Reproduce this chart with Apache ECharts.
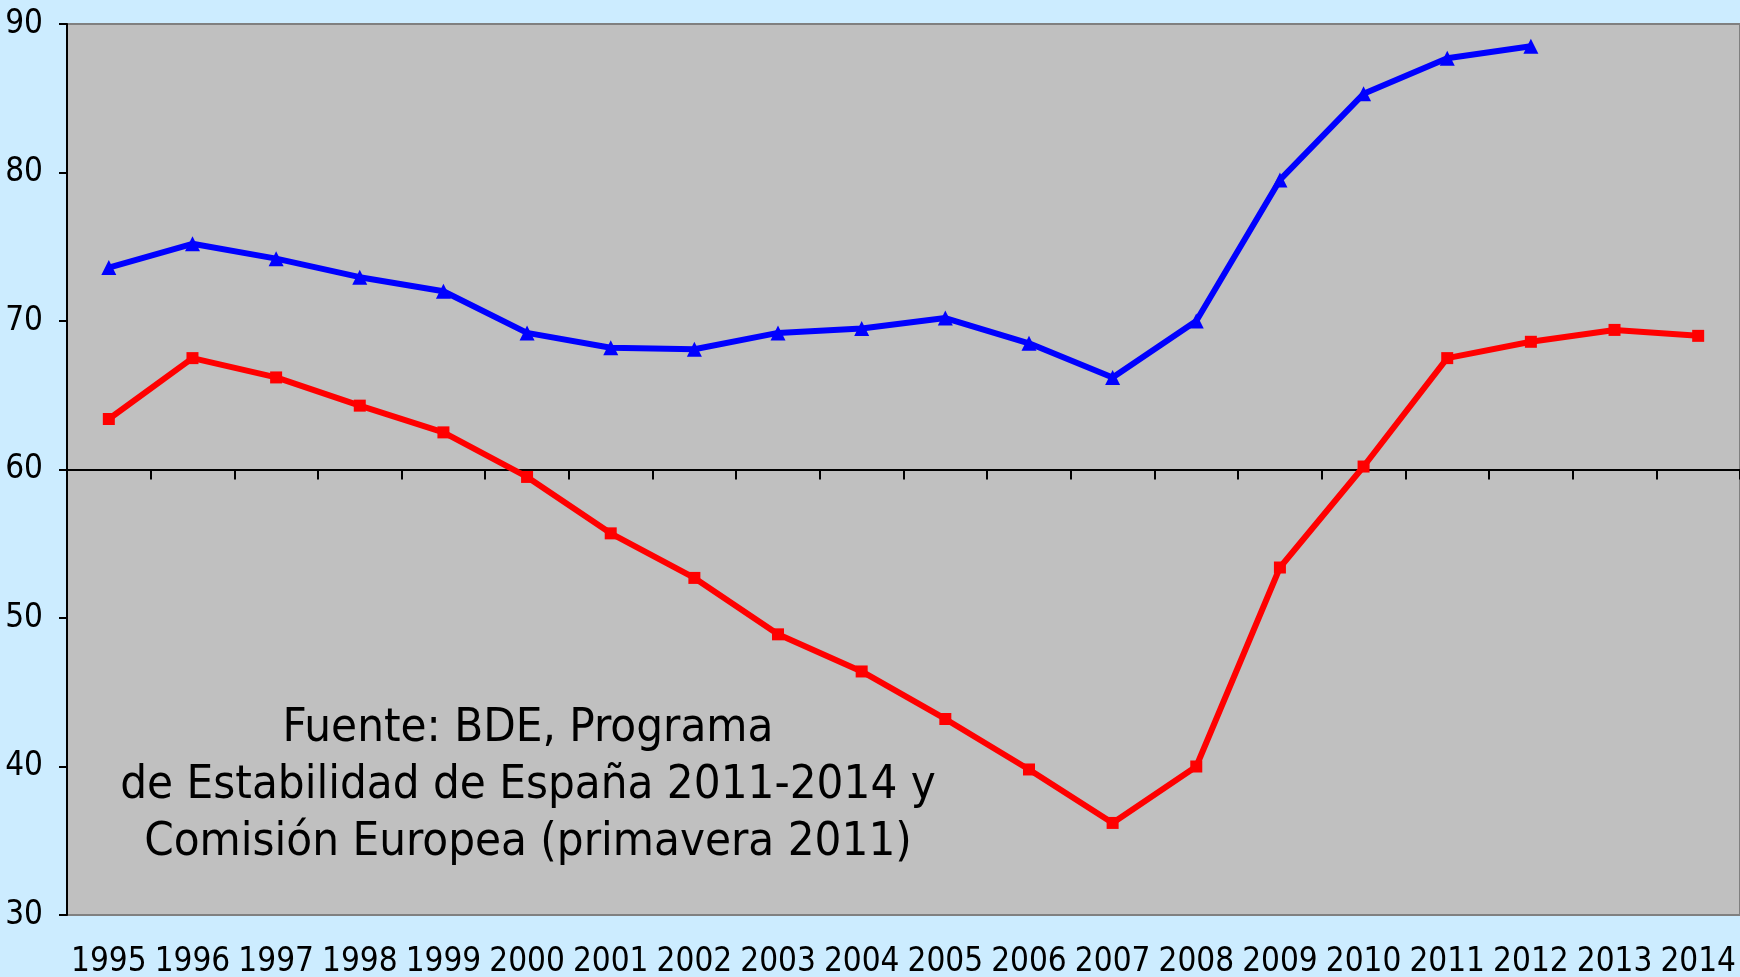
<!DOCTYPE html>
<html>
<head>
<meta charset="utf-8">
<script src="https://cdn.jsdelivr.net/npm/echarts@6/dist/echarts.min.js"></script>
<style>
  html, body { margin: 0; padding: 0; background: #CCECFF; }
  #main { width: 1740px; height: 977px; }
</style>
</head>
<body>
<div id="main"></div>
<script>
// years on the x axis
var years = ['1995', '1996', '1997', '1998', '1999', '2000', '2001', '2002', '2003', '2004',
  '2005', '2006', '2007', '2008', '2009', '2010', '2011', '2012', '2013', '2014']
// blue series (triangles), ends in 2012
var blueVals = [73.6, 75.2, 74.2, 72.95, 72.0, 69.2, 68.2, 68.1, 69.2, 69.5,
  70.2, 68.5, 66.2, 70.0, 79.5, 85.3, 87.7, 88.5, null, null]
// red series (squares)
var redVals = [63.4, 67.5, 66.2, 64.3, 62.5, 59.5, 55.7, 52.7, 48.9, 46.4,
  43.2, 39.8, 36.2, 40.0, 53.4, 60.2, 67.5, 68.6, 69.4, 69.0]
var yTicks = [30, 40, 50, 60, 70, 80, 90]
var crossAt = 60
var noteLines = ['Fuente: BDE, Programa', 'de Estabilidad de España 2011-2014 y', 'Comisión Europea (primavera 2011)']

var labelFont = 'DejaVu Sans Condensed'

// note text, one element per line, centred
var noteGraphics = noteLines.map(function (line, i) {
  return {
    type: 'text',
    x: 528,
    y: 705 + i * 57,
    style: {
      text: line,
      align: 'center',
      textAlign: 'center',
      verticalAlign: 'top',
      textVerticalAlign: 'top',
      fill: '#000',
      fontFamily: 'DejaVu Sans Condensed',
      fontSize: 47
    },
    z: 5
  }
})

var myChart = echarts.init(document.getElementById('main'))
myChart.setOption({
  backgroundColor: '#CCECFF',
  animation: false,
  grid: [
    {
      left: 67,
      right: 0,
      top: 24,
      bottom: 62,
      outerBoundsMode: 'none',
      containLabel: false,
      show: true,
      backgroundColor: '#C0C0C0',
      borderColor: '#808080',
      borderWidth: 2
    },
    {
      // helper grid: its bottom sits on y = 60, carries the crossing x axis
      left: 67,
      right: 0,
      top: 24,
      height: 891 * (90 - crossAt) / (90 - 30),
      outerBoundsMode: 'none',
      containLabel: false,
      show: false
    }
  ],
  xAxis: [
    {
      type: 'category',
      gridIndex: 0,
      data: years,
      boundaryGap: true,
      axisLine: { show: false },
      axisTick: { show: false },
      axisLabel: {
        color: '#000',
        fontFamily: labelFont,
        fontSize: 33,
        margin: 31,
        interval: 0
      },
      splitLine: { show: false }
    },
    {
      type: 'category',
      gridIndex: 1,
      data: years,
      boundaryGap: true,
      axisLine: { show: true, lineStyle: { color: '#000', width: 2 } },
      axisTick: { show: true, length: 10, interval: 0, lineStyle: { color: '#000', width: 2 } },
      axisLabel: { show: false },
      splitLine: { show: false }
    }
  ],
  yAxis: [
    {
      type: 'value',
      gridIndex: 0,
      min: yTicks[0],
      max: yTicks[yTicks.length - 1],
      interval: 10,
      axisLine: { show: true, lineStyle: { color: '#000', width: 2 } },
      axisTick: { show: true, length: 8, lineStyle: { color: '#000', width: 2 } },
      axisLabel: {
        color: '#000',
        fontFamily: labelFont,
        fontSize: 33,
        margin: 24
      },
      splitLine: { show: false }
    },
    {
      type: 'value',
      gridIndex: 1,
      min: crossAt,
      max: 90,
      show: false
    }
  ],
  series: [
    {
      name: 'azul',
      type: 'line',
      xAxisIndex: 0,
      yAxisIndex: 0,
      data: blueVals,
      symbol: 'triangle',
      symbolSize: 15,
      showAllSymbol: true,
      connectNulls: false,
      lineStyle: { color: '#0000FF', width: 6 },
      itemStyle: { color: '#0000FF' },
      z: 3
    },
    {
      name: 'rojo',
      type: 'line',
      xAxisIndex: 0,
      yAxisIndex: 0,
      data: redVals,
      symbol: 'rect',
      symbolSize: 12,
      showAllSymbol: true,
      lineStyle: { color: '#FF0000', width: 6 },
      itemStyle: { color: '#FF0000' },
      z: 3
    }
  ],
  graphic: noteGraphics
})
</script>
</body>
</html>
